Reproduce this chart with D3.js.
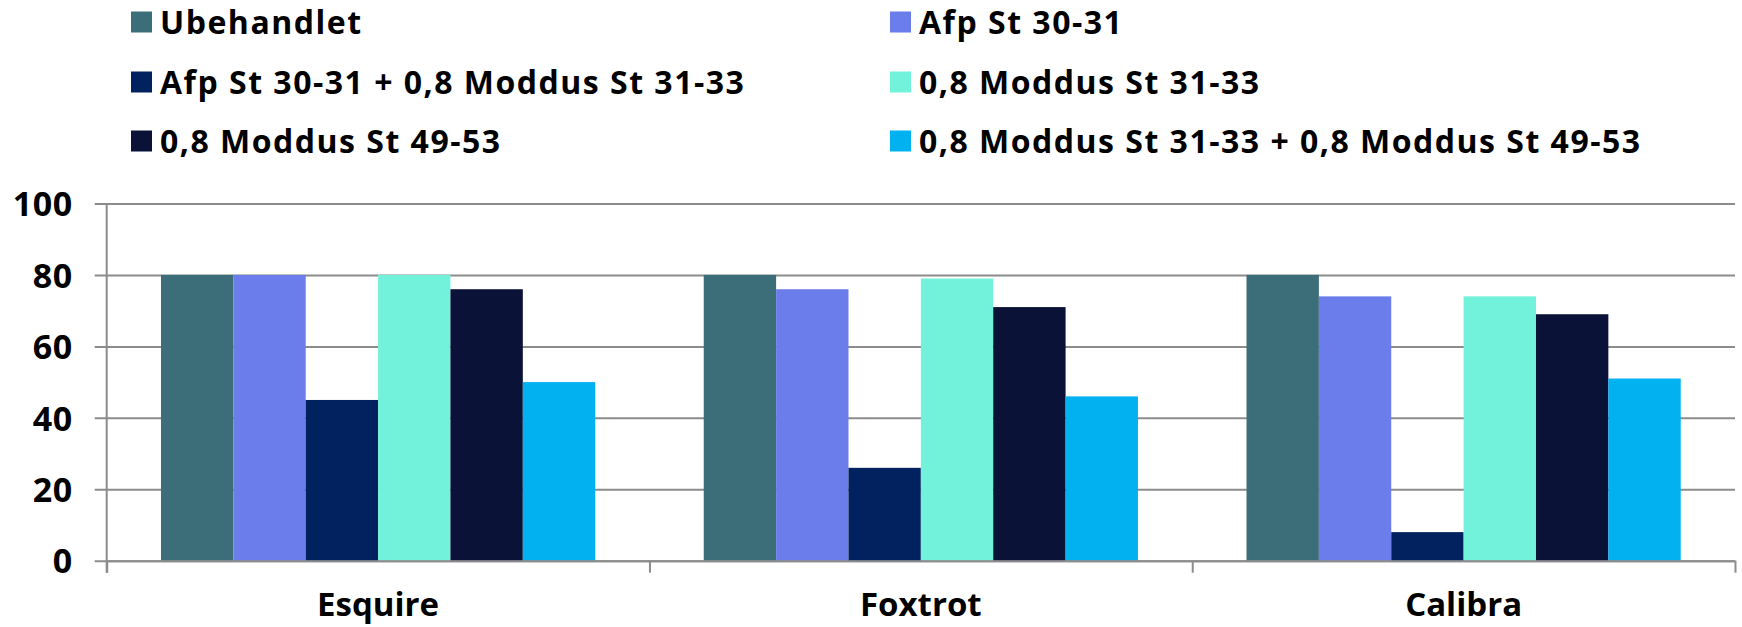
<!DOCTYPE html>
<html><head><meta charset="utf-8">
<script src="https://cdn.jsdelivr.net/npm/d3@7"></script>
<style>
html,body{margin:0;padding:0;background:#fff;}
text{font-family:"Open Sans","Noto Sans",sans-serif;font-weight:700;fill:#000;}
</style></head>
<body><svg id="chart" width="1742" height="627"></svg>
<script>
const categories = ["Esquire", "Foxtrot", "Calibra"];
const seriesNames = ["Ubehandlet", "Afp St 30-31", "Afp St 30-31 + 0,8 Moddus St 31-33", "0,8 Moddus St 31-33", "0,8 Moddus St 49-53", "0,8 Moddus St 31-33 + 0,8 Moddus St 49-53"];
const seriesColors = ["#3B6E78", "#6A7DEA", "#02215F", "#72F1DB", "#0A1238", "#02B1F0"];
const ubehandlet = [80, 80, 80];
const afp = [80, 76, 74];
const afpModdus = [45, 26, 8];
const moddus3133 = [80, 79, 74];
const moddus4953 = [76, 71, 69];
const moddusBoth = [50, 46, 51];
const yTicks = [0, 20, 40, 60, 80, 100];

const series = [ubehandlet, afp, afpModdus, moddus3133, moddus4953, moddusBoth];

const svg = d3.select("#chart");
const L = 106.7, R = 1735, T = 203.5, B = 560.7;

const x0 = d3.scaleBand().domain(categories).range([L, R]).paddingInner(0.2).paddingOuter(0.1);
const x1 = d3.scaleBand().domain(d3.range(series.length)).range([0, x0.bandwidth()]);
const y = d3.scaleLinear().domain([0, 100]).range([B, T]);

const yAxis = d3.axisLeft(y).tickValues(yTicks).tickSize(-(R - L)).tickSizeOuter(0).tickPadding(0);
const gy = svg.append("g").attr("transform", `translate(${L},0)`).call(yAxis);
gy.select(".domain").remove();
gy.selectAll(".tick line").attr("stroke", "#8c8c8c").attr("stroke-width", 2).attr("x1", -12);
gy.selectAll(".tick text").attr("x", -34).attr("dy", "0.36em").style("font-size", "34px").style("letter-spacing", "0.5px").attr("fill", "#000");

categories.forEach((c, ci) => {
  series.forEach((s, si) => {
    svg.append("rect")
      .attr("x", x0(c) + x1(si))
      .attr("y", y(s[ci]))
      .attr("width", x1.bandwidth())
      .attr("height", y(0) - y(s[ci]))
      .attr("fill", seriesColors[si]);
  });
});

const xb = d3.scaleLinear().domain([0, categories.length]).range([L, R]);
const gx = svg.append("g").attr("transform", `translate(0,${B})`)
  .call(d3.axisBottom(xb).tickValues(d3.range(categories.length + 1)).tickSize(12).tickSizeOuter(0).tickFormat(""));
gx.select(".domain").attr("stroke", "#8c8c8c").attr("stroke-width", 2);
gx.selectAll(".tick line").attr("stroke", "#8c8c8c").attr("stroke-width", 2);
svg.append("line").attr("x1", L).attr("x2", L).attr("y1", T).attr("y2", B + 12).attr("stroke", "#8c8c8c").attr("stroke-width", 2);

svg.append("g").selectAll("text").data(categories).join("text")
  .attr("x", d => x0(d) + x0.bandwidth() / 2)
  .attr("y", 616)
  .attr("text-anchor", "middle")
  .style("font-size", "33px")
  .text(d => d);

const legX = [131, 890], legY = [22, 82, 141];
seriesNames.forEach((n, i) => {
  const col = i % 2, row = Math.floor(i / 2);
  const g = svg.append("g").attr("transform", `translate(${legX[col]},${legY[row]})`);
  g.append("rect").attr("x", 0).attr("y", -10.5).attr("width", 21).attr("height", 21).attr("fill", seriesColors[i]);
  g.append("text").attr("x", 29).attr("y", 0).attr("dy", "0.36em").style("font-size", "32px").style("letter-spacing", "1.5px").text(n);
});
</script></body></html>
